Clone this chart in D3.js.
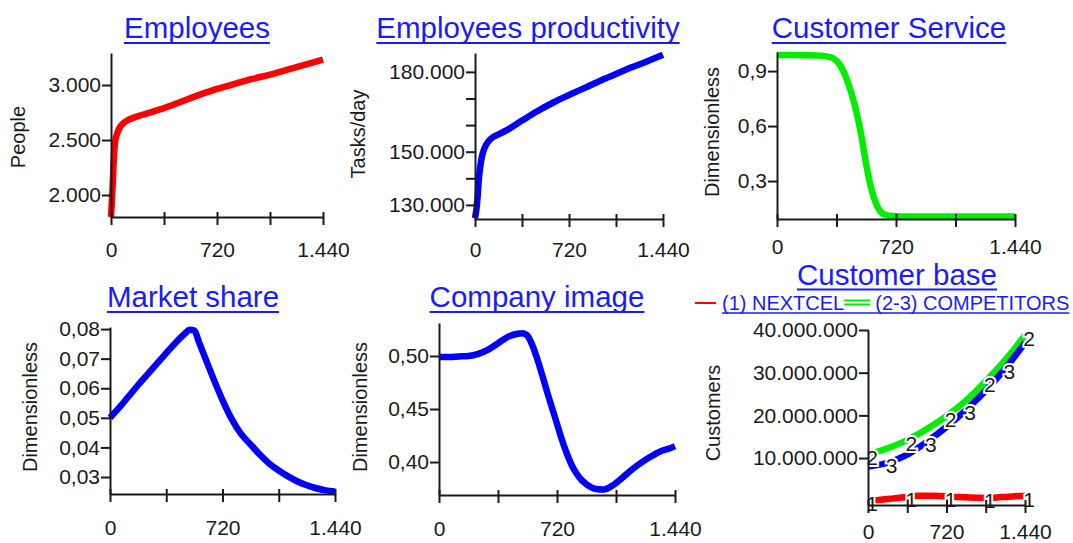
<!DOCTYPE html>
<html><head><meta charset="utf-8">
<script src="https://cdn.jsdelivr.net/npm/d3@7"></script>
<style>
body{margin:0;background:#fff}
svg{display:block}
text{font-family:"Liberation Sans",Arial,Helvetica,sans-serif}
</style>
</head><body>
<svg id="c" width="1073" height="543"></svg>
<script>
// ---------- data ----------
const xTicks = [0, 360, 720, 1080, 1440];
const xTickLabels = [0, 720, 1440];

const empT = [0,10,20,30,45,60,90,120,180,240,360,480,600,720,840,960,1080,1200,1320,1440];
const empV = [1800,2050,2350,2500,2570,2615,2660,2685,2715,2740,2790,2850,2910,2965,3010,3055,3095,3140,3185,3230];

const prodT = [0,10,20,30,45,60,90,120,180,240,360,480,600,720,840,960,1080,1200,1320,1440];
const prodV = [125000,128000,133000,140000,146000,149500,153000,154800,156500,158000,161700,165300,168500,171300,174000,176700,179200,181700,184000,186400];

const servT = [0,120,240,300,340,380,420,450,480,510,540,570,600,630,660,700,760,1440];
const servV = [0.987,0.987,0.985,0.98,0.97,0.935,0.86,0.78,0.68,0.55,0.39,0.26,0.175,0.13,0.115,0.109,0.107,0.107];

const mktT = [0,60,120,180,240,300,360,420,480,510,540,570,600,660,720,780,840,900,960,1020,1080,1140,1200,1260,1320,1380,1440];
const mktV = [0.0500,0.0535,0.0573,0.0611,0.0647,0.0683,0.0719,0.0754,0.0785,0.0798,0.0795,0.0755,0.0715,0.0635,0.056,0.0495,0.0445,0.0410,0.0375,0.0345,0.0322,0.0302,0.0285,0.0272,0.0262,0.0255,0.0251];

const imgT = [0,60,120,180,240,300,360,420,480,510,540,570,600,630,660,690,720,750,780,810,840,870,900,960,1000,1050,1110,1170,1230,1290,1350,1410,1440];
const imgV = [0.499,0.499,0.4995,0.500,0.502,0.506,0.512,0.518,0.521,0.5215,0.519,0.51,0.497,0.482,0.466,0.451,0.436,0.421,0.408,0.397,0.389,0.383,0.379,0.3745,0.374,0.377,0.384,0.392,0.399,0.405,0.410,0.413,0.415];

const baseT = [0,180,360,540,720,900,1080,1260,1440];
const comp2V = [10800000,12300000,14200000,16800000,19800000,23500000,28000000,33000000,38800000];
const comp3V = [8000000,8900000,10800000,13800000,17300000,21300000,25800000,31000000,37000000];
const nextT = [0,60,120,180,240,300,360,420,480,540,600,660,720,780,840,900,960,1020,1080,1140,1200,1260,1320,1380,1440];
const nextV = [0,100000,250000,400000,550000,750000,900000,1100000,1150000,1150000,1150000,1100000,1000000,900000,850000,800000,750000,700000,650000,700000,800000,900000,1000000,1100000,1100000];
const label2T = [0,360,720,1080,1440];
const label3T = [180,540,900,1260];
const label1T = [0,360,720,1080,1440];

// ---------- setup ----------
const loc = d3.formatLocale({decimal: ",", thousands: ".", grouping: [3], currency: ["", ""]});
const xf = loc.format(",.0f");
const svg = d3.select("#c");
const INK = "#1a1a1a", TITLE = "#1a1aff";
const RED = "#ff0000", BLUE = "#0000ff", GREEN = "#00ee00";

const panels = [
  {title:"Employees", ylab:"People", series:[{t:empT, v:empV, color:RED}],
   yTicks:[2000,2500,3000], yShown:[2000,2500,3000], fmt:",.0f", dom:[1800,3291],
   box:{x0:111,x1:323,yTop:53,yBot:217}, tx:197, ty:38, lx:18, ly:137, xb:257},
  {title:"Employees productivity", ylab:"Tasks/day", series:[{t:prodT, v:prodV, color:BLUE}],
   yTicks:[130000,140000,150000,160000,170000,180000], yShown:[130000,150000,180000], fmt:",.0f", dom:[124700,187100],
   box:{x0:475,x1:663,yTop:53,yBot:219}, tx:528, ty:38, lx:358, ly:134, xb:257},
  {title:"Customer Service", ylab:"Dimensionless", series:[{t:servT, v:servV, color:GREEN}],
   yTicks:[0.3,0.6,0.9], yShown:[0.3,0.6,0.9], fmt:".1f", dom:[0.093,1.004],
   box:{x0:777,x1:1015,yTop:52,yBot:219}, tx:889, ty:38, lx:712, ly:132, xb:253.5},
  {title:"Market share", ylab:"Dimensionless", series:[{t:mktT, v:mktV, color:BLUE}],
   yTicks:[0.03,0.04,0.05,0.06,0.07,0.08], yShown:[0.03,0.04,0.05,0.06,0.07,0.08], fmt:".2f", dom:[0.02426,0.0807],
   box:{x0:110,x1:335,yTop:327,yBot:494}, tx:193, ty:307, lx:30, ly:407, xb:535},
  {title:"Company image", ylab:"Dimensionless", series:[{t:imgT, v:imgV, color:BLUE}],
   yTicks:[0.40,0.45,0.50], yShown:[0.40,0.45,0.50], fmt:".2f", dom:[0.3689,0.5311],
   box:{x0:439,x1:675,yTop:323,yBot:495}, tx:537, ty:307, lx:360, ly:407, xb:536},
  {title:"Customer base", ylab:"Customers",
   series:[{t:baseT, v:comp2V, color:GREEN, lab:"2", labT:label2T},
           {t:baseT, v:comp3V, color:BLUE, lab:"3", labT:label3T},
           {t:nextT, v:nextV, color:RED, lab:"1", labT:label1T}],
   yTicks:[10000000,20000000,30000000,40000000], yShown:[10000000,20000000,30000000,40000000], fmt:",.0f", dom:[-1000000,40000000],
   box:{x0:868,x1:1025,yTop:330,yBot:505}, tx:897, ty:284.5, lx:713, ly:413, xb:539}
];

function styleAxis(sel){
  sel.attr("font-family", null).attr("font-size", null);
  sel.select(".domain").attr("stroke", INK).attr("stroke-width", 2);
  sel.selectAll(".tick line").attr("stroke", INK).attr("stroke-width", 2);
  sel.selectAll(".tick text").attr("fill", INK).style("font-size", "21px");
}

panels.forEach(p => {
  const g = svg.append("g");
  const x = d3.scaleLinear().domain([0,1440]).range([p.box.x0, p.box.x1]);
  const y = d3.scaleLinear().domain(p.dom).range([p.box.yBot, p.box.yTop]);
  const line = d3.line().x(d => x(d[0])).y(d => y(d[1])).curve(d3.curveMonotoneX);

  p.series.forEach(s => {
    g.append("path").datum(d3.zip(s.t, s.v)).attr("d", line)
      .attr("fill", "none").attr("stroke", s.color).attr("stroke-width", 6.5);
  });

  // series number labels: white halo cuts gaps in the lines
  const labs = [];
  p.series.forEach(s => {
    if (!s.lab) return;
    s.labT.forEach(t => {
      const i = s.t.indexOf(t);
      labs.push({x: x(t) + 4, y: y(s.v[i]) + 3, txt: s.lab});
    });
  });
  g.selectAll("text.halo").data(labs).join("text").attr("class","halo")
    .attr("x", d => d.x).attr("y", d => d.y).attr("text-anchor","middle")
    .attr("dominant-baseline","central").style("font-size","21px")
    .attr("fill","#fff").attr("stroke","#fff").attr("stroke-width",4).text(d => d.txt);

  // y axis
  const yf = loc.format(p.fmt);
  const ay = g.append("g").attr("transform", `translate(${p.box.x0},0)`)
    .call(d3.axisLeft(y).tickValues(p.yTicks).tickSizeOuter(0).tickSizeInner(9).tickPadding(1)
      .tickFormat(d => p.yShown.some(v => Math.abs(v - d) < 1e-9) ? yf(d) : ""));
  styleAxis(ay);
  ay.selectAll(".tick line").attr("x1", 1).attr("x2", -9);

  // x axis
  const axx = g.append("g").attr("transform", `translate(0,${p.box.yBot})`)
    .call(d3.axisBottom(x).tickValues(xTicks).tickSizeOuter(0)
      .tickFormat(d => xTickLabels.includes(d) ? xf(d) : ""));
  styleAxis(axx);
  axx.selectAll(".tick line").attr("y1", -5).attr("y2", 8);
  axx.selectAll(".tick text").attr("y", p.xb - p.box.yBot).attr("dy", 0);

  g.selectAll("text.lab").data(labs).join("text").attr("class","lab")
    .attr("x", d => d.x).attr("y", d => d.y).attr("text-anchor","middle")
    .attr("dominant-baseline","central").style("font-size","21px")
    .attr("fill", INK).text(d => d.txt);

  // title with underline
  const tt = g.append("text").attr("x", p.tx).attr("y", p.ty).attr("text-anchor","middle")
    .style("font-size","29.5px").attr("fill", TITLE).text(p.title);
  const w = tt.node().getComputedTextLength();
  g.append("line").attr("x1", p.tx - w/2).attr("x2", p.tx + w/2)
    .attr("y1", p.ty + 5).attr("y2", p.ty + 5).attr("stroke", TITLE).attr("stroke-width", 2);

  // y axis title
  g.append("text").attr("transform", `translate(${p.lx},${p.ly}) rotate(-90)`)
    .attr("text-anchor","middle").attr("dominant-baseline","central")
    .style("font-size","20px").attr("fill", INK).text(p.ylab);
});

// legend for Customer base
const lg = svg.append("g");
lg.append("line").attr("x1",695).attr("x2",716).attr("y1",303).attr("y2",303).attr("stroke",RED).attr("stroke-width",2);
const t1 = lg.append("text").attr("x",722).attr("y",310).style("font-size","20px").attr("fill",TITLE).text("(1) NEXTCEL");
const w1 = t1.node().getComputedTextLength();
lg.append("line").attr("x1",722+w1).attr("x2",722+w1+26).attr("y1",300.5).attr("y2",300.5).attr("stroke",GREEN).attr("stroke-width",2);
lg.append("line").attr("x1",722+w1).attr("x2",722+w1+26).attr("y1",304.5).attr("y2",304.5).attr("stroke",GREEN).attr("stroke-width",2);
const x2 = 722 + w1 + 31;
const t2 = lg.append("text").attr("x",x2).attr("y",310).style("font-size","20px").attr("fill",TITLE).text("(2-3) COMPETITORS");
const w2 = t2.node().getComputedTextLength();
lg.append("line").attr("x1",722).attr("x2",x2+w2).attr("y1",313).attr("y2",313).attr("stroke",TITLE).attr("stroke-width",1.5);
</script>
</body></html>
